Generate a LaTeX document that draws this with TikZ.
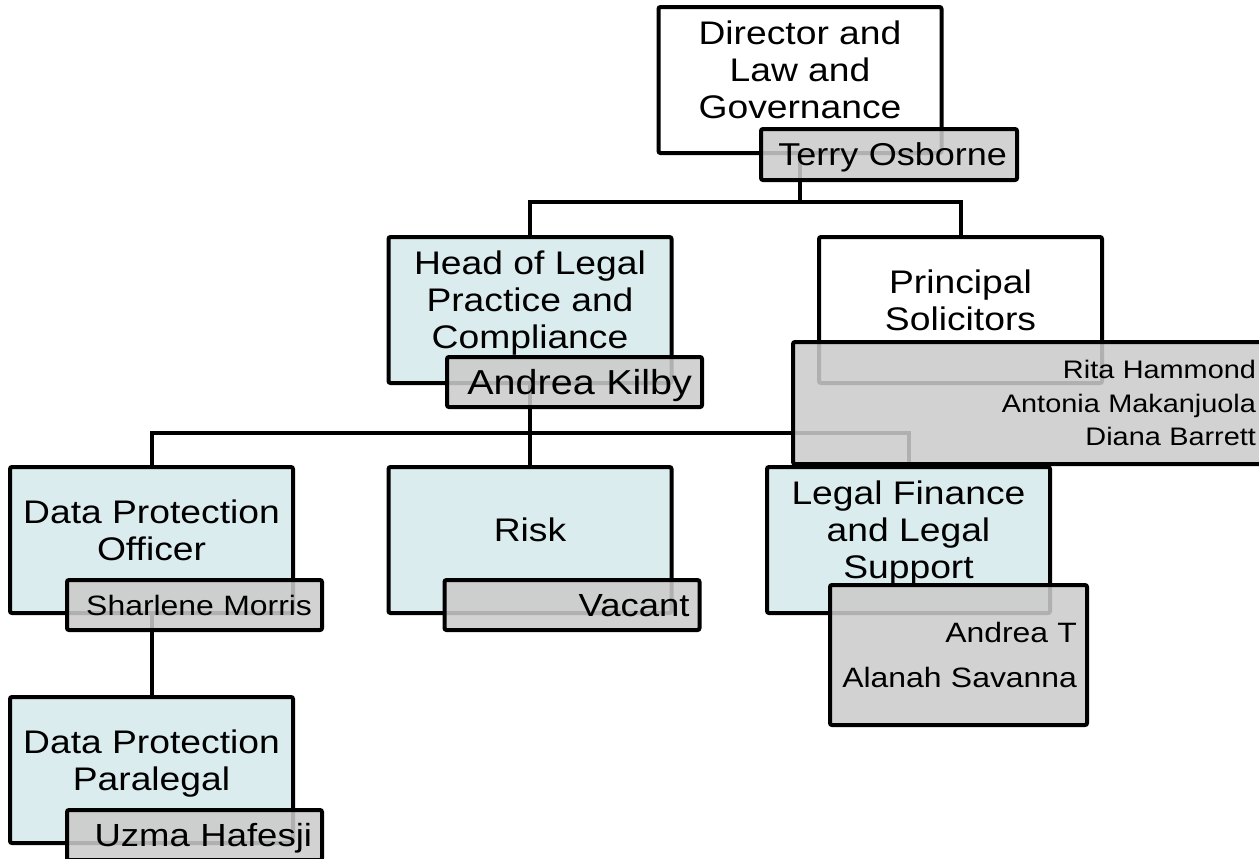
\documentclass[tikz,border=0pt]{standalone}
\usepackage{fontspec}
\setmainfont{Liberation Sans}[FakeStretch=1.14]
\definecolor{unitblue}{HTML}{DBECEF}
\definecolor{namegray}{HTML}{CBCBCB}
\begin{document}
\begin{tikzpicture}[x=0.75pt, y=-0.75pt,
unit/.style = {draw, line width=3pt, rounded corners=1.5pt, fill=unitblue,
  minimum width=212.25pt, minimum height=109.5pt, inner sep=0pt,
  align=center, text depth=15pt, font=\fontsize{24.5}{27.75}\selectfont},
top-unit/.style = {unit, fill=white},
name-box/.style = {draw, line width=3pt, rounded corners=1.5pt,
  fill=namegray, fill opacity=0.87, text opacity=1,
  inner xsep=7.5pt, inner ysep=0pt, align=right,
  text width=176.25pt, minimum height=37.5pt,
  font=\fontsize{24}{28}\selectfont},
one-name/.style = {name-box, text depth=0pt},
link/.style = {line width=3pt}
]
\useasboundingbox (0,0) rectangle (1259,858);
\node[top-unit] (director) at (800,80) {Director and\\Law and\\Governance};
\node[unit] (head) at (530,310) {Head of Legal\\Practice and\\Compliance};
\node[top-unit] (principal) at (960.5,310) {Principal\\Solicitors};
\node[unit] (dpo) at (151.5,540) {Data Protection\\Officer};
\node[unit] (risk) at (530,540) {Risk};
\node[unit] (finance) at (908.5,540) {Legal Finance\\and Legal\\Support};
\node[unit] (paralegal) at (151.5,770) {Data Protection\\Paralegal};
\draw[link] (director.south) -- ++(0,47) -| (head.north);
\draw[link] (director.south) -- ++(0,47) -| (principal.north);
\draw[link] (head.south) -- ++(0,48) -| (dpo.north);
\draw[link] (head.south) -- ++(0,48) -| (risk.north);
\draw[link] (head.south) -- ++(0,48) -| (finance.north);
\draw[link] (dpo.south) -- (paralegal.north);
\node[one-name, text width=177pt, minimum height=38.25pt,
  font=\fontsize{23.7}{28}\selectfont] (osborne) at (889,154.5) {Terry Osborne};
\node[one-name, font=\fontsize{26}{28}\selectfont] (kilby) at (574.5,382) {Andrea Kilby};
\node[name-box, text width=339.75pt, minimum height=91.5pt,
  font=\fontsize{19}{25.1}\selectfont] (solicitors) at (1029.5,403)
  {Rita Hammond\\Antonia Makanjuola\\Diana Barrett};
\node[one-name, font=\fontsize{21}{28}\selectfont] (morris) at (194.5,605) {Sharlene Morris};
\node[one-name] (vacant) at (572,605) {Vacant};
\node[name-box, text width=177.75pt, minimum height=105pt,
  font=\fontsize{21}{33.75}\selectfont] (support) at (958.5,655)
  {Andrea T\\Alanah Savanna};
\node[one-name] (hafesji) at (194.5,835) {Uzma Hafesji};
\end{tikzpicture}
\end{document}
